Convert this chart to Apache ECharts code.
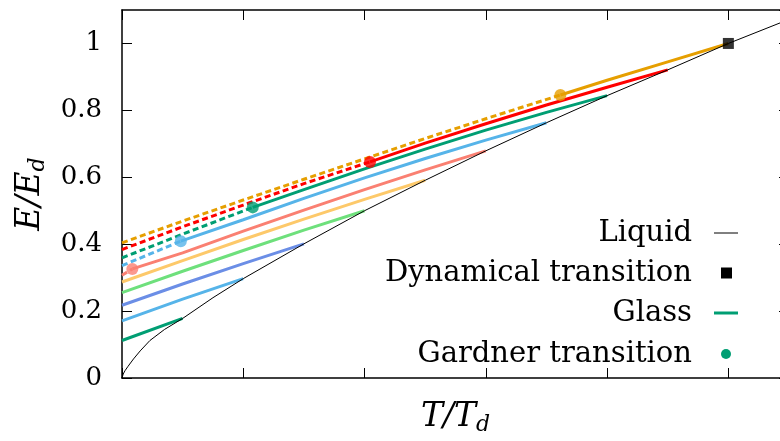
<!DOCTYPE html>
<html><head><meta charset="utf-8">
<script src="https://cdn.jsdelivr.net/npm/echarts@6/dist/echarts.min.js"></script>
<style>html,body{margin:0;padding:0;background:#fff;overflow:hidden}#c{width:789px;height:441px}</style>
</head><body><div id="c"></div>
<script>
// ---- data (T/Td, E/Ed) ----
const liquid = [[0,0],[0.002,0.012],[0.005,0.022],[0.01,0.035],[0.019,0.057],[0.03,0.081],[0.046,0.112],[0.07,0.145],[0.1,0.178],[0.15,0.240],[0.2,0.297],[0.3,0.401],[0.4,0.500],[0.5,0.591],[0.6,0.679],[0.7,0.763],[0.8,0.844],[0.9,0.921],[1.0,1.0],[1.1,1.072]];
const glass1 = [[0,0.112],[0.1,0.178]];
const glass2 = [[0,0.171],[0.1,0.236],[0.2,0.297]];
const glass3 = [[0,0.2175],[0.1,0.281],[0.2,0.342],[0.3,0.401]];
const glass4 = [[0,0.255],[0.1,0.319],[0.2,0.381],[0.3,0.442],[0.4,0.500]];
const glass5 = [[0,0.287],[0.1,0.351],[0.2,0.414],[0.3,0.475],[0.4,0.534],[0.5,0.591]];
const glass6Dash = [[0,0.307],[0.017,0.326]];
const glass6 = [[0.017,0.326],[0.1,0.374],[0.2,0.439],[0.3,0.502],[0.4,0.563],[0.5,0.622],[0.6,0.679]];
const glass7Dash = [[0,0.336],[0.097,0.409]];
const glass7 = [[0.097,0.409],[0.2,0.473],[0.3,0.537],[0.4,0.598],[0.5,0.656],[0.6,0.711],[0.7,0.763]];
const glass8Dash = [[0,0.359],[0.1,0.430],[0.2156,0.510]];
const glass8 = [[0.2156,0.510],[0.3,0.563],[0.4,0.625],[0.5,0.684],[0.6,0.741],[0.7,0.794],[0.8,0.844]];
const glass9Dash = [[0,0.384],[0.1,0.452],[0.2,0.517],[0.3,0.581],[0.409,0.646]];
const glass9 = [[0.409,0.646],[0.5,0.702],[0.6,0.760],[0.7,0.816],[0.8,0.869],[0.9,0.921]];
const glass10Dash = [[0,0.404],[0.1,0.469],[0.2,0.532],[0.3,0.594],[0.4,0.655],[0.5,0.716],[0.6,0.775],[0.723,0.846]];
const glass10 = [[0.723,0.846],[0.8,0.890],[0.9,0.945],[1.0,1.0]];
const gardner = [[0.017,0.326],[0.097,0.409],[0.2156,0.510],[0.409,0.646],[0.723,0.846]];
const dynamical = [[1.0,1.0]];
const yTicks = [0,0.2,0.4,0.6,0.8,1];
const legendLabels = ['Liquid','Dynamical transition','Glass','Gardner transition'];

// ---- styling ----
const C = {green:'#009e73', blue:'#56b4e9', purple:'#6b8ee6', lgreen:'#6ee07c', yellow:'#fdc96a', salmon:'#fa8072', red:'#ff0000', orange:'#e69f00'};
const glassDefs = [
  {solid:glass1, color:C.green},
  {solid:glass2, color:C.blue},
  {solid:glass3, color:C.purple},
  {solid:glass4, color:C.lgreen},
  {solid:glass5, color:C.yellow},
  {dash:glass6Dash, solid:glass6, color:C.salmon},
  {dash:glass7Dash, solid:glass7, color:C.blue},
  {dash:glass8Dash, solid:glass8, color:C.green},
  {dash:glass9Dash, solid:glass9, color:C.red},
  {dash:glass10Dash, solid:glass10, color:C.orange}
];
const gardnerColors = [C.salmon, C.blue, C.green, C.red, C.orange];
const FONT = 'DejaVu Serif';

const series = [];
glassDefs.forEach(g => {
  if (g.dash) series.push({type:'line', data:g.dash, symbol:'none', silent:true, z:2,
    lineStyle:{color:g.color, width:3, type:[6,3.5]}});
  series.push({type:'line', data:g.solid, symbol:'none', silent:true, z:2,
    lineStyle:{color:g.color, width:3}});
});
series.push({type:'line', name:'Liquid', data:liquid, symbol:'none', z:3,
  lineStyle:{color:'#000', width:1}});
series.push({type:'scatter', name:'Gardner transition', z:4, symbolSize:12,
  data:gardner.map((p,i)=>({value:p, itemStyle:{color:gardnerColors[i]}}))});
series.push({type:'scatter', name:'Dynamical transition', z:5, symbol:'rect', symbolSize:11,
  data:dynamical, itemStyle:{color:'#000'}});

const axisCommon = {
  type:'value', min:0, max:1.1, interval:0.2,
  axisLine:{show:true, onZero:false, lineStyle:{color:'#000', width:1.5}},
  axisTick:{show:true, inside:true, length:10, lineStyle:{color:'#000', width:1}},
  splitLine:{show:false}
};
const rich = {
  i:{fontFamily:FONT, fontStyle:'italic', fontSize:33, color:'#000'},
  s:{fontFamily:FONT, fontStyle:'italic', fontSize:22, color:'#000', verticalAlign:'bottom', padding:[16,0,0,0]}
};

const legendY = [233, 273, 313, 354];
const graphic = [];
legendLabels.forEach((t,i)=>{
  graphic.push({type:'text', x:692, y:legendY[i], silent:true,
    style:{text:t, align:'right', verticalAlign:'middle', fontFamily:FONT, fontSize:29, fill:'#000'}});
});
graphic.push({type:'line', shape:{x1:714,y1:legendY[0],x2:738,y2:legendY[0]}, style:{stroke:'#000', lineWidth:1}});
graphic.push({type:'rect', shape:{x:721,y:legendY[1]-5.5,width:11,height:11}, style:{fill:'#000'}});
graphic.push({type:'line', shape:{x1:714,y1:legendY[2],x2:738,y2:legendY[2]}, style:{stroke:C.green, lineWidth:3}});
graphic.push({type:'circle', shape:{cx:726,cy:legendY[3],r:5}, style:{fill:C.green}});

const option = {
  animation:false,
  backgroundColor:'#fff',
  grid:{left:122, right:0, top:10, bottom:60, containLabel:false},
  xAxis:[
    Object.assign({}, axisCommon, {position:'bottom', axisLabel:{show:false},
      name:'{i|T/T}{s|d}', nameLocation:'middle', nameGap:20, nameTextStyle:{rich}}),
    Object.assign({}, axisCommon, {position:'top', axisLabel:{show:false}})
  ],
  yAxis:[
    Object.assign({}, axisCommon, {position:'left',
      axisLabel:{show:true, margin:20, showMaxLabel:false, fontFamily:FONT, fontSize:26, color:'#000',
        formatter:v => yTicks.indexOf(+v.toFixed(1))>=0 ? String(+v.toFixed(1)) : ''},
      name:'{i|E/E}{s|d}', nameLocation:'middle', nameGap:72, nameRotate:90, nameTextStyle:{rich}}),
    Object.assign({}, axisCommon, {position:'right', axisLabel:{show:false}})
  ],
  graphic,
  series
};
const chart = echarts.init(document.getElementById('c'), null, {renderer:'canvas'});
chart.setOption(option);
</script></body></html>
